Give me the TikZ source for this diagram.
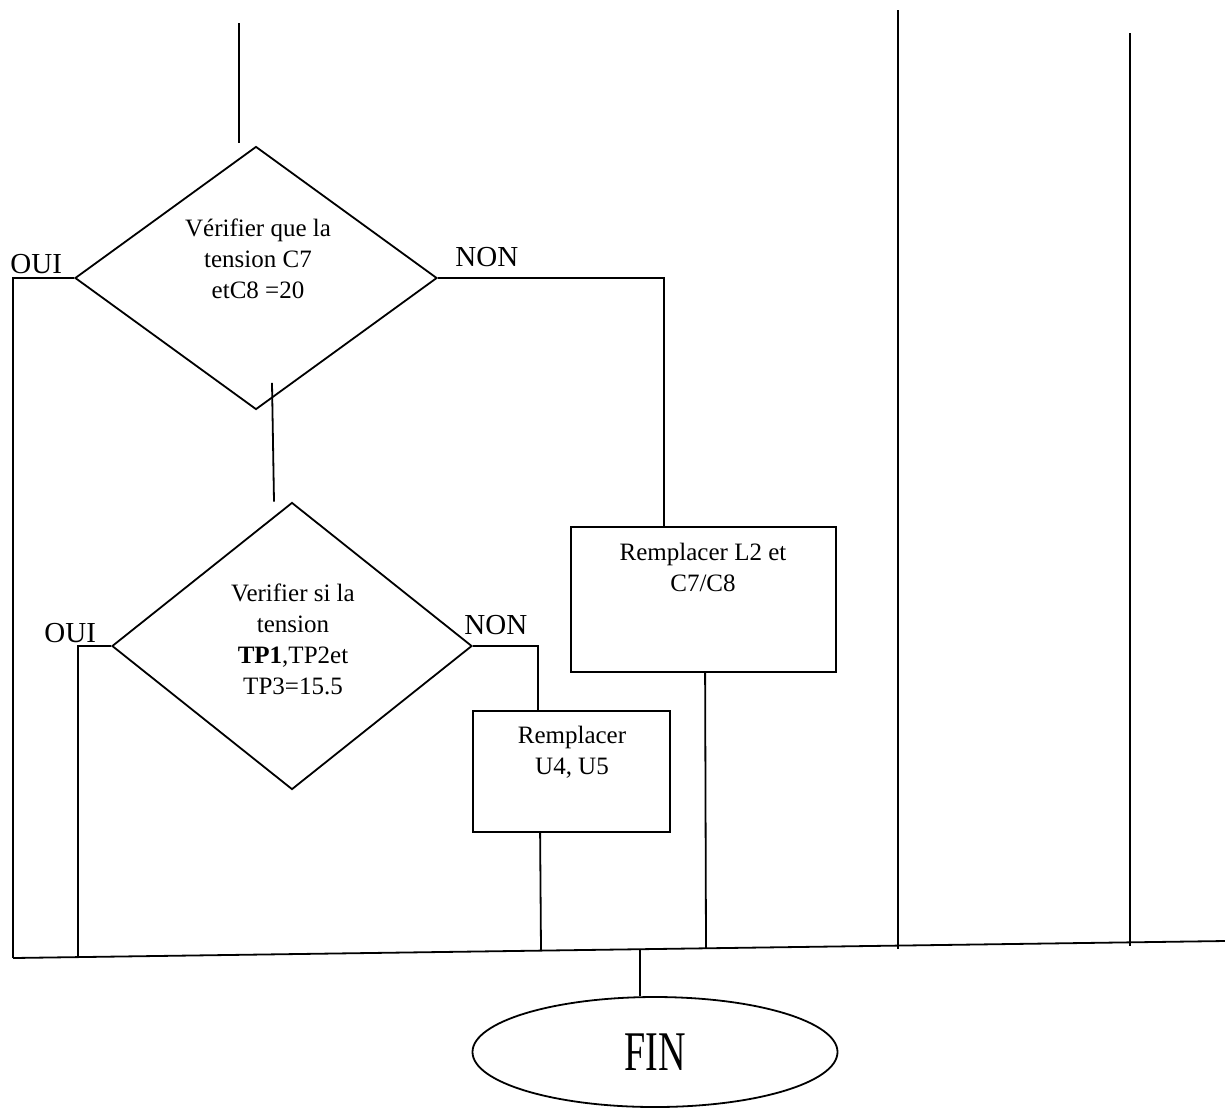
\documentclass[tikz,border=0pt]{standalone}
\usepackage{fontspec}
\setmainfont{Liberation Serif}
\usetikzlibrary{shapes.geometric,calc}
\tikzset{
  ln/.style={line width=0.9pt},
  dia/.style={draw, ln, diamond, inner sep=0pt},
  box/.style={draw, ln, rectangle, inner sep=0pt},
  txt/.style={align=center, font=\fontsize{12.5}{15.5}\selectfont, inner sep=0pt},
  lab/.style={font=\fontsize{14.5}{16}\selectfont, inner sep=0pt},
}
\begin{document}
\begin{tikzpicture}[x=0.5pt,y=-0.5pt]
\useasboundingbox (0,0) rectangle (1225,1115);
% shapes
\node[dia, minimum width=181pt, minimum height=131.5pt] (d1) at (256,278) {};
\node[dia, minimum width=180pt, minimum height=143.5pt] (d2) at (292,646) {};
\node[box, minimum width=132.5pt, minimum height=72.5pt] (b1) at (703.5,599.5) {};
\node[box, minimum width=98.5pt, minimum height=60.5pt] (b2) at (571.5,771.5) {};
\node[draw, ln, ellipse, minimum width=182.5pt, minimum height=55pt, inner sep=0pt] (fin) at (655,1052) {\scalebox{0.68}[1]{\fontsize{28}{30}\selectfont FIN}};
% texts
\node[txt, anchor=north] (t1) at (258,218) {Vérifier que la\\tension C7\\etC8 =20};
\node[txt, anchor=north] (t2) at (293,583) {Verifier si la\\tension\\\textbf{TP1},TP2et\\TP3=15.5};
\node[txt, anchor=north] (t3) at (703,543) {Remplacer L2 et\\C7/C8};
\node[txt, anchor=north] (t4) at (572,726) {Remplacer\\U4, U5};
\node[lab, anchor=base west] (o1) at (10,273) {OUI};
\node[lab, anchor=base west] (n1) at (455,266) {NON};
\node[lab, anchor=base west] (o2) at (44,642) {OUI};
\node[lab, anchor=base west] (n2) at (464,634) {NON};
% bottom collector line
\coordinate (bl) at (13,958);
\coordinate (br) at (1225,941);
\draw[ln] (bl) -- (br);
\coordinate (j78) at (78,957.1);
\coordinate (j541) at (541,950.6);
\coordinate (j640) at (640,949.2);
\coordinate (j706) at (706,948.3);
% connectors
\coordinate (top) at (239,23);
\draw[ln] (top) -- (239,143);
\draw[ln] ($(d1.south)+(16,-27.5)$) -- ($(d2.north)+(-18,0)$);
\draw[ln] (d1.west) -| (bl);
\draw[ln] (d1.east) -| ($(b1.north west)+(94,0)$);
\draw[ln] (d2.west) -| (j78);
\draw[ln] (d2.east) -| ($(b2.north west)+(66,0)$);
\draw[ln] ($(b2.south west)+(68,0)$) -- (j541);
\draw[ln] ($(b1.south west)+(135,0)$) -- (j706);
\draw[ln] (j640) -- ($(fin.north)+(-15,0)$);
% right-hand verticals
\coordinate (v1t) at (898,10);
\coordinate (v1b) at (898,949);
\coordinate (v2t) at (1130,33);
\coordinate (v2b) at (1130,946);
\draw[ln] (v1t) -- (v1b);
\draw[ln] (v2t) -- (v2b);
\end{tikzpicture}
\end{document}
